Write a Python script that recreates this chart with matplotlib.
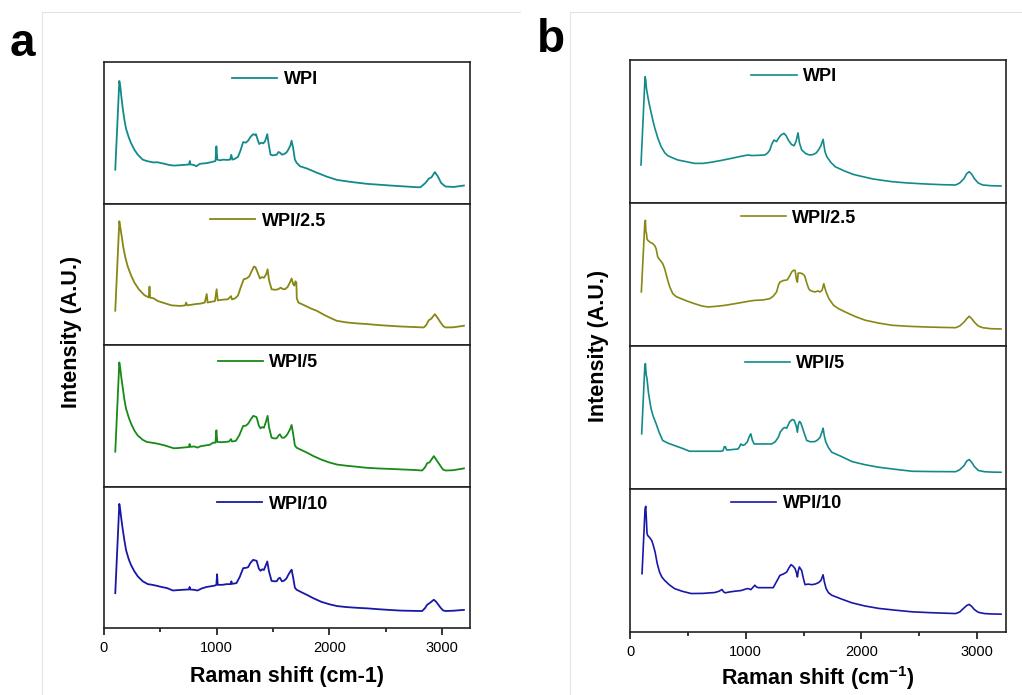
import matplotlib
matplotlib.use("Agg")
import matplotlib.pyplot as plt
from matplotlib.lines import Line2D
from matplotlib.ticker import MultipleLocator

plt.rcParams['font.family'] = ['Liberation Sans', 'DejaVu Sans']
plt.rcParams['mathtext.fontset'] = 'custom'
plt.rcParams['mathtext.bf'] = 'Liberation Sans:bold'
plt.rcParams['mathtext.rm'] = 'Liberation Sans'

labels = ['WPI', 'WPI/2.5', 'WPI/5', 'WPI/10']
colors_a = ['#138a8a', '#878715', '#178a17', '#1818a8']
colors_b = ['#138a8a', '#878715', '#138a8a', '#1818a8']

# panel a : Raman shift (cm-1) and relative intensity
wn_a_wpi = [100, 136, 145, 154, 166, 181, 196, 220, 240, 270, 300, 344, 380, 404, 440, 470, 500, 540, 580, 620,
            660, 700, 740, 755, 762, 768, 800, 820, 850, 880, 910, 940, 970, 990, 998, 1006, 1030, 1060, 1090,
            1120, 1130, 1140, 1160, 1190, 1210, 1236, 1260, 1280, 1300, 1325, 1340, 1349, 1365, 1378, 1395,
            1414, 1430, 1450, 1460, 1479, 1500, 1533, 1550, 1562, 1580, 1600, 1620, 1636, 1655, 1666, 1680,
            1695, 1711, 1741, 1800, 1889, 1978, 2067, 2186, 2335, 2543, 2780, 2810, 2854, 2884, 2908, 2938,
            2964, 2994, 3032, 3106, 3196]
int_a_wpi = [0.239, 0.866, 0.826, 0.756, 0.674, 0.592, 0.528, 0.467, 0.427, 0.38, 0.345, 0.31, 0.30, 0.296,
             0.29, 0.292, 0.287, 0.28, 0.272, 0.268, 0.27, 0.272, 0.275, 0.275, 0.30, 0.276, 0.272, 0.263, 0.28,
             0.283, 0.285, 0.29, 0.296, 0.30, 0.404, 0.31, 0.305, 0.31, 0.308, 0.31, 0.344, 0.31, 0.315, 0.33,
             0.37, 0.434, 0.43, 0.444, 0.47, 0.49, 0.485, 0.49, 0.45, 0.42, 0.43, 0.425, 0.44, 0.49, 0.43,
             0.345, 0.34, 0.345, 0.364, 0.36, 0.345, 0.35, 0.36, 0.38, 0.41, 0.444, 0.39, 0.31, 0.287, 0.263,
             0.248, 0.218, 0.19, 0.167, 0.153, 0.139, 0.127, 0.115, 0.115, 0.145, 0.176, 0.185, 0.222, 0.192,
             0.145, 0.12, 0.117, 0.127]

wn_a_25 = [100, 136, 145, 157, 172, 190, 211, 240, 270, 309, 359, 398, 404, 410, 440, 480, 520, 560, 600, 640,
           680, 720, 730, 738, 780, 820, 860, 895, 912, 920, 950, 985, 1000, 1010, 1050, 1100, 1128, 1136, 1165,
           1190, 1215, 1241, 1265, 1289, 1310, 1331, 1345, 1360, 1385, 1400, 1420, 1440, 1453, 1465, 1488, 1520,
           1547, 1568, 1590, 1607, 1630, 1650, 1666, 1680, 1690, 1700, 1708, 1712, 1726, 1780, 1840, 1889, 1950,
           2000, 2067, 2150, 2240, 2335, 2450, 2550, 2632, 2750, 2840, 2860, 2884, 2905, 2938, 2960, 2988, 3010,
           3032, 3100, 3196]
int_a_25 = [0.242, 0.875, 0.829, 0.77, 0.688, 0.617, 0.554, 0.493, 0.441, 0.394, 0.352, 0.336, 0.413, 0.335,
            0.33, 0.31, 0.30, 0.29, 0.28, 0.278, 0.276, 0.28, 0.30, 0.28, 0.285, 0.29, 0.293, 0.30, 0.36, 0.30,
            0.305, 0.31, 0.394, 0.315, 0.32, 0.323, 0.345, 0.322, 0.33, 0.35, 0.41, 0.465, 0.47, 0.484, 0.52,
            0.554, 0.55, 0.52, 0.47, 0.48, 0.475, 0.50, 0.535, 0.46, 0.394, 0.39, 0.394, 0.405, 0.395, 0.394,
            0.41, 0.44, 0.47, 0.43, 0.42, 0.45, 0.44, 0.33, 0.30, 0.28, 0.257, 0.242, 0.215, 0.195, 0.171, 0.16,
            0.153, 0.148, 0.14, 0.135, 0.131, 0.127, 0.124, 0.14, 0.175, 0.185, 0.218, 0.195, 0.16, 0.135,
            0.124, 0.125, 0.136]

wn_a_5 = [100, 136, 145, 154, 166, 181, 196, 220, 240, 270, 300, 344, 380, 420, 460, 500, 540, 580, 620, 660,
          700, 740, 755, 760, 766, 800, 830, 860, 900, 940, 970, 990, 998, 1006, 1040, 1080, 1110, 1128, 1136,
          1170, 1200, 1236, 1260, 1280, 1300, 1325, 1340, 1355, 1375, 1390, 1405, 1420, 1435, 1453, 1465, 1488,
          1510, 1533, 1550, 1562, 1580, 1600, 1620, 1636, 1655, 1666, 1680, 1695, 1711, 1760, 1800, 1860, 1930,
          2000, 2070, 2150, 2240, 2335, 2450, 2550, 2632, 2750, 2825, 2850, 2870, 2890, 2929, 2950, 2988, 3010,
          3032, 3100, 3196]
int_a_5 = [0.246, 0.877, 0.83, 0.77, 0.70, 0.615, 0.55, 0.487, 0.445, 0.395, 0.36, 0.33, 0.315, 0.31, 0.305,
           0.298, 0.29, 0.28, 0.27, 0.272, 0.275, 0.278, 0.28, 0.30, 0.28, 0.283, 0.275, 0.285, 0.29, 0.295,
           0.31, 0.31, 0.397, 0.315, 0.313, 0.315, 0.318, 0.335, 0.318, 0.322, 0.36, 0.428, 0.43, 0.444, 0.47,
           0.499, 0.495, 0.49, 0.43, 0.411, 0.42, 0.415, 0.45, 0.499, 0.42, 0.345, 0.34, 0.34, 0.36, 0.369,
           0.345, 0.345, 0.36, 0.38, 0.41, 0.435, 0.37, 0.29, 0.274, 0.255, 0.24, 0.215, 0.19, 0.17, 0.155,
           0.147, 0.14, 0.132, 0.127, 0.124, 0.121, 0.117, 0.113, 0.135, 0.165, 0.17, 0.215, 0.19, 0.145,
           0.12, 0.113, 0.115, 0.128]

wn_a_10 = [100, 136, 145, 154, 166, 181, 196, 220, 240, 270, 300, 344, 389, 430, 470, 510, 560, 612, 660, 700,
           740, 755, 760, 766, 800, 830, 870, 910, 950, 985, 998, 1004, 1010, 1050, 1090, 1125, 1131, 1137, 1176,
           1205, 1236, 1260, 1280, 1300, 1325, 1340, 1355, 1375, 1390, 1405, 1420, 1435, 1450, 1465, 1488, 1510,
           1533, 1550, 1562, 1580, 1600, 1620, 1636, 1655, 1666, 1680, 1695, 1711, 1760, 1800, 1860, 1930, 2000,
           2070, 2150, 2240, 2335, 2450, 2550, 2632, 2750, 2825, 2850, 2870, 2890, 2929, 2950, 2988, 3010, 3032,
           3100, 3196]
int_a_10 = [0.246, 0.877, 0.83, 0.77, 0.70, 0.62, 0.55, 0.485, 0.445, 0.40, 0.365, 0.33, 0.31, 0.305, 0.298,
            0.29, 0.282, 0.265, 0.268, 0.27, 0.272, 0.272, 0.29, 0.272, 0.27, 0.265, 0.28, 0.29, 0.295, 0.30,
            0.305, 0.38, 0.305, 0.305, 0.31, 0.31, 0.33, 0.312, 0.317, 0.36, 0.423, 0.425, 0.43, 0.46, 0.482,
            0.478, 0.475, 0.42, 0.404, 0.415, 0.41, 0.44, 0.47, 0.40, 0.333, 0.33, 0.33, 0.35, 0.355, 0.33,
            0.335, 0.35, 0.375, 0.40, 0.412, 0.355, 0.285, 0.27, 0.25, 0.235, 0.21, 0.185, 0.168, 0.155, 0.148,
            0.143, 0.139, 0.132, 0.127, 0.123, 0.121, 0.12, 0.14, 0.165, 0.175, 0.20, 0.185, 0.144, 0.125,
            0.12, 0.122, 0.128]

# panel b
wn_b_wpi = [95, 130, 136, 142, 155, 168, 190, 211, 240, 269, 300, 326, 370, 413, 480, 558, 630, 703, 790, 876,
            950, 1021, 1050, 1100, 1166, 1190, 1209, 1225, 1244, 1255, 1267, 1285, 1305, 1331, 1350, 1369, 1395,
            1418, 1435, 1452, 1465, 1484, 1520, 1550, 1580, 1610, 1629, 1650, 1669, 1685, 1701, 1735, 1773,
            1850, 1930, 1976, 2100, 2266, 2400, 2555, 2700, 2815, 2850, 2888, 2910, 2932, 2955, 2975, 3010,
            3048, 3120, 3207]
int_b_wpi = [0.266, 0.883, 0.86, 0.802, 0.74, 0.685, 0.605, 0.534, 0.455, 0.394, 0.352, 0.331, 0.315, 0.301,
             0.29, 0.277, 0.277, 0.285, 0.298, 0.312, 0.325, 0.336, 0.332, 0.333, 0.336, 0.35, 0.371, 0.41,
             0.44, 0.435, 0.43, 0.455, 0.475, 0.487, 0.47, 0.44, 0.41, 0.40, 0.43, 0.49, 0.42, 0.371, 0.345,
             0.336, 0.338, 0.35, 0.371, 0.40, 0.445, 0.36, 0.324, 0.285, 0.254, 0.225, 0.20, 0.191, 0.168,
             0.149, 0.14, 0.133, 0.128, 0.126, 0.14, 0.172, 0.205, 0.219, 0.20, 0.172, 0.14, 0.126, 0.121,
             0.119]

wn_b_25 = [98, 128, 133, 137, 142, 147, 153, 175, 197, 215, 226, 240, 260, 283, 300, 326, 345, 370, 400, 442,
           500, 558, 620, 674, 740, 818, 900, 992, 1040, 1079, 1150, 1209, 1240, 1267, 1285, 1296, 1325, 1345,
           1360, 1380, 1398, 1415, 1427, 1440, 1447, 1454, 1470, 1490, 1510, 1528, 1545, 1557, 1580, 1600,
           1625, 1643, 1660, 1675, 1685, 1695, 1720, 1759, 1800, 1860, 1950, 2034, 2150, 2266, 2400, 2555,
           2700, 2815, 2850, 2888, 2910, 2932, 2955, 2975, 3010, 3048, 3120, 3207]
int_b_25 = [0.378, 0.86, 0.879, 0.80, 0.79, 0.75, 0.74, 0.725, 0.716, 0.70, 0.68, 0.622, 0.60, 0.576, 0.54,
            0.46, 0.41, 0.366, 0.345, 0.331, 0.312, 0.296, 0.28, 0.273, 0.277, 0.284, 0.295, 0.308, 0.315,
            0.319, 0.322, 0.331, 0.35, 0.378, 0.43, 0.447, 0.458, 0.46, 0.463, 0.49, 0.518, 0.53, 0.529, 0.46,
            0.447, 0.51, 0.51, 0.506, 0.49, 0.44, 0.40, 0.389, 0.382, 0.378, 0.385, 0.378, 0.39, 0.436, 0.405,
            0.378, 0.33, 0.285, 0.262, 0.238, 0.205, 0.18, 0.16, 0.145, 0.138, 0.133, 0.13, 0.128, 0.14, 0.168,
            0.19, 0.208, 0.19, 0.168, 0.14, 0.128, 0.121, 0.119]

wn_b_5 = [101, 128, 133, 140, 147, 160, 170, 182, 200, 226, 250, 283, 330, 384, 450, 515, 600, 700, 790, 804,
          815, 824, 835, 847, 900, 934, 950, 957, 975, 992, 1015, 1030, 1044, 1058, 1073, 1150, 1224, 1255,
          1282, 1300, 1325, 1340, 1354, 1380, 1403, 1420, 1437, 1447, 1455, 1464, 1475, 1490, 1510, 1528, 1560,
          1600, 1625, 1643, 1660, 1669, 1680, 1692, 1715, 1744, 1820, 1918, 2030, 2150, 2300, 2440, 2600, 2815,
          2850, 2888, 2910, 2932, 2955, 2975, 3010, 3062, 3130, 3207]
int_b_5 = [0.386, 0.86, 0.877, 0.80, 0.772, 0.67, 0.62, 0.561, 0.51, 0.456, 0.40, 0.339, 0.32, 0.304, 0.285,
           0.264, 0.264, 0.264, 0.264, 0.268, 0.295, 0.296, 0.273, 0.273, 0.277, 0.28, 0.30, 0.315, 0.305, 0.31,
           0.33, 0.365, 0.386, 0.34, 0.315, 0.315, 0.315, 0.33, 0.362, 0.40, 0.425, 0.43, 0.425, 0.47, 0.486,
           0.48, 0.44, 0.397, 0.45, 0.472, 0.465, 0.43, 0.38, 0.339, 0.33, 0.332, 0.345, 0.362, 0.40, 0.425,
           0.37, 0.33, 0.29, 0.257, 0.23, 0.192, 0.17, 0.152, 0.137, 0.124, 0.122, 0.121, 0.135, 0.164, 0.195,
           0.206, 0.185, 0.159, 0.13, 0.121, 0.118, 0.117]

wn_b_10 = [104, 130, 136, 141, 147, 153, 170, 188, 200, 217, 235, 255, 275, 298, 340, 384, 450, 529, 630, 732,
           770, 795, 810, 824, 860, 905, 960, 1015, 1035, 1044, 1060, 1079, 1093, 1108, 1180, 1238, 1265, 1296,
           1325, 1354, 1375, 1392, 1410, 1427, 1440, 1447, 1455, 1464, 1475, 1484, 1500, 1513, 1540, 1571, 1600,
           1629, 1650, 1669, 1680, 1695, 1715, 1744, 1830, 1918, 2030, 2150, 2300, 2440, 2600, 2815, 2850, 2888,
           2910, 2932, 2955, 2975, 3010, 3062, 3130, 3207]
int_b_10 = [0.408, 0.86, 0.879, 0.80, 0.69, 0.675, 0.66, 0.64, 0.61, 0.559, 0.48, 0.42, 0.385, 0.362, 0.33,
            0.304, 0.285, 0.269, 0.27, 0.276, 0.285, 0.297, 0.28, 0.274, 0.28, 0.285, 0.29, 0.304, 0.30, 0.296,
            0.31, 0.327, 0.315, 0.31, 0.31, 0.31, 0.35, 0.396, 0.405, 0.419, 0.45, 0.471, 0.46, 0.443, 0.41,
            0.385, 0.43, 0.455, 0.44, 0.43, 0.37, 0.331, 0.335, 0.331, 0.335, 0.345, 0.36, 0.40, 0.35, 0.304,
            0.275, 0.257, 0.23, 0.204, 0.182, 0.165, 0.152, 0.141, 0.135, 0.129, 0.14, 0.169, 0.185, 0.193,
            0.178, 0.158, 0.138, 0.129, 0.126, 0.125]

panel_a = [(wn_a_wpi, int_a_wpi), (wn_a_25, int_a_25), (wn_a_5, int_a_5), (wn_a_10, int_a_10)]
panel_b = [(wn_b_wpi, int_b_wpi), (wn_b_25, int_b_25), (wn_b_5, int_b_5), (wn_b_10, int_b_10)]

W, H = 1022, 695
fig = plt.figure(figsize=(W / 100, H / 100), dpi=100)

# faint frame lines of the original figure
for x0, x1 in [(42, 520), (570, 1022)]:
    fig.add_artist(Line2D([x0 / W, x1 / W], [1 - 12 / H, 1 - 12 / H], color='#e4e4e4', lw=0.8))
    fig.add_artist(Line2D([x0 / W, x0 / W], [0, 1 - 12 / H], color='#e4e4e4', lw=0.8))


def draw_panel(data, colors, box, leg_x, leg_y, cm_sup, lw, xpad):
    left, right, bottom, top = box
    gs = fig.add_gridspec(4, 1, left=left / W, right=right / W, bottom=1 - bottom / H, top=1 - top / H,
                          hspace=0)
    for i, (x, y) in enumerate(data):
        ax = fig.add_subplot(gs[i])
        ax.plot(x, y, color=colors[i], lw=lw, label=labels[i])
        ax.set_xlim(0, 3250)
        ax.set_ylim(0, 1)
        ax.set_yticks([])
        for s in ax.spines.values():
            s.set_linewidth(1.2)
            s.set_color('#222222')
        ax.legend(loc='center left', bbox_to_anchor=(leg_x[i], leg_y[i]), frameon=False, borderpad=0,
                  borderaxespad=0, handlelength=2.5, handletextpad=0.35,
                  prop={'weight': 'bold', 'size': 13})
        if i < 3:
            ax.set_xticks([])
        else:
            ax.xaxis.set_major_locator(MultipleLocator(1000))
            ax.xaxis.set_minor_locator(MultipleLocator(500))
            ax.tick_params(axis='x', which='major', direction='out', length=5, width=1.1, labelsize=10.5,
                           pad=4)
            ax.tick_params(axis='x', which='minor', direction='out', length=3, width=1.1)
            if cm_sup:
                ax.set_xlabel(r'Raman shift (cm$^{\mathbf{-1}}$)', fontsize=15.5, fontweight='bold',
                              labelpad=xpad)
            else:
                ax.set_xlabel('Raman shift (cm-1)', fontsize=15.5, fontweight='bold', labelpad=xpad)


draw_panel(panel_a, colors_a, (104, 470, 628, 62), [0.35, 0.29, 0.311, 0.309], [0.873, 0.875, 0.875, 0.875],
           False, 1.3, 8)
draw_panel(panel_b, colors_b, (630, 1006, 632, 60), [0.323, 0.294, 0.305, 0.269], [0.883, 0.893, 0.876, 0.896],
           True, 1.2, 4)

fig.text(72 / W, 1 - 332 / H, 'Intensity (A.U.)', rotation=90, ha='center', va='center', fontsize=15.5,
         fontweight='bold')
fig.text(598 / W, 1 - 346 / H, 'Intensity (A.U.)', rotation=90, ha='center', va='center', fontsize=15.5,
         fontweight='bold')
fig.text(22 / W, 1 - 44 / H, 'a', ha='center', va='center', fontsize=33, fontweight='bold')
fig.text(551 / W, 1 - 40 / H, 'b', ha='center', va='center', fontsize=33, fontweight='bold')

fig.savefig('out.png', dpi=100)
